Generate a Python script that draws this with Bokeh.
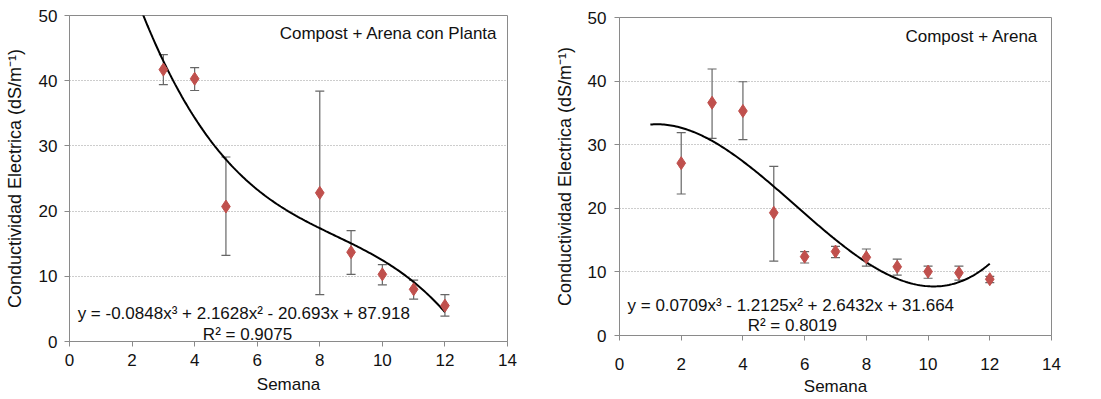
import numpy as np
from bokeh.plotting import figure
from bokeh.layouts import row, column
from bokeh.models import ColumnDataSource, Whisker, FixedTicker, TeeHead
from bokeh.core.properties import value
from bokeh.embed import file_html
from bokeh.resources import INLINE

# ---- data: Compost + Arena con Planta ----
weeks_a = [3, 4, 5, 8, 9, 10, 11, 12]
ce_a = [41.7, 40.3, 20.7, 22.8, 13.7, 10.3, 8.0, 5.5]
ce_a_hi = [44.0, 42.0, 28.3, 38.4, 17.0, 11.8, 9.4, 7.2]
ce_a_lo = [39.4, 38.5, 13.2, 7.2, 10.3, 8.7, 6.5, 3.9]
coef_a = [-0.0848, 2.1628, -20.693, 87.918]
eq_a = "y = -0.0848x³ + 2.1628x² - 20.693x + 87.918"
r2_a = "R² = 0.9075"
title_a = "Compost + Arena con Planta"

# ---- data: Compost + Arena ----
weeks_b = [2, 3, 4, 5, 6, 7, 8, 9, 10, 11, 12]
ce_b = [27.1, 36.6, 35.3, 19.3, 12.4, 13.2, 12.3, 10.8, 10.05, 9.85, 8.85]
ce_b_hi = [31.9, 41.9, 39.9, 26.6, 13.2, 14.0, 13.6, 12.0, 10.9, 10.9, 9.3]
ce_b_lo = [22.25, 31.0, 30.8, 11.7, 11.4, 12.25, 10.9, 9.5, 9.0, 8.7, 8.3]
coef_b = [0.0709, -1.2125, 2.6432, 31.664]
eq_b = "y = 0.0709x³ - 1.2125x² + 2.6432x + 31.664"
r2_b = "R² = 0.8019"
title_b = "Compost + Arena"

x_ticks = [0, 2, 4, 6, 8, 10, 12, 14]
y_ticks = [0, 10, 20, 30, 40, 50]
x_label = "Semana"
y_label = "Conductividad Electrica (dS/m⁻¹)"

FONT = "Liberation Sans"
AXIS_GREY = "#8a8a8a"
MARKER = "#C0504D"


def make_panel(weeks, ce, hi, lo, coef, eq, r2, title, width, border_right,
               border_top, border_bottom, pos, x_std, xl_std, y_std, yl_std):
    p = figure(width=width, height=399, x_range=(0, 14), y_range=(0, 50),
               output_backend="svg", toolbar_location=None,
               min_border_left=69, min_border_right=border_right,
               min_border_top=border_top, min_border_bottom=border_bottom)
    p.background_fill_color = "white"
    p.border_fill_color = "white"
    p.outline_line_color = AXIS_GREY
    p.outline_line_width = 1

    p.xaxis.ticker = FixedTicker(ticks=x_ticks)
    p.yaxis.ticker = FixedTicker(ticks=y_ticks)
    for ax in (p.xaxis[0], p.yaxis[0]):
        ax.axis_line_color = AXIS_GREY
        ax.major_tick_line_color = AXIS_GREY
        ax.minor_tick_line_color = None
        ax.major_tick_out = 5
        ax.major_tick_in = 0
        ax.major_label_text_font = FONT
        ax.major_label_text_font_size = "17px"
        ax.major_label_text_color = "#111111"
        ax.axis_label_text_font = FONT
        ax.axis_label_text_font_size = "18px"
        ax.axis_label_text_font_style = "normal"
        ax.axis_label_text_color = "#111111"
    p.xaxis.axis_label_text_font_size = "17px"
    p.xaxis.axis_label = x_label
    p.yaxis.axis_label = y_label
    p.xaxis.major_label_standoff = x_std
    p.xaxis.axis_label_standoff = xl_std
    p.yaxis.major_label_standoff = y_std
    p.yaxis.axis_label_standoff = yl_std

    p.xgrid.grid_line_color = None
    p.ygrid.grid_line_color = "#9a9a9a"
    p.ygrid.grid_line_dash = "1 2"
    p.ygrid.grid_line_width = 1

    # trend line from displayed coefficients
    xs = np.linspace(1, 12, 200)
    ys = np.polyval(coef, xs)
    p.line(xs, ys, line_color="black", line_width=2)

    src = ColumnDataSource(dict(x=weeks, y=ce, hi=hi, lo=lo))
    w = Whisker(source=src, base="x", upper="hi", lower="lo",
                line_color="#666666", line_width=1.2,
                upper_head=TeeHead(size=9, line_color="#666666", line_width=1.2),
                lower_head=TeeHead(size=9, line_color="#666666", line_width=1.2))
    p.add_layout(w)
    p.scatter("x", "y", source=src, marker="diamond", size=13,
              fill_color=MARKER, line_color=MARKER)

    tx, ty, ex, ey, rx, ry = pos
    p.text([tx], [ty], text=[title], text_font=value(FONT),
           text_font_size="17px", text_align="right", text_baseline="middle",
           text_color="#111111")
    p.text([ex], [ey], text=[eq], text_font=value(FONT),
           text_font_size="17px", text_align="left", text_baseline="middle",
           text_color="#111111")
    p.text([rx], [ry], text=[r2], text_font=value(FONT),
           text_font_size="17px", text_align="center", text_baseline="middle",
           text_color="#111111")
    return p


p1 = make_panel(weeks_a, ce_a, ce_a_hi, ce_a_lo, coef_a, eq_a, r2_a, title_a,
                550, 43, 15, 58, (13.68, 47.2, 0.26, 4.3, 5.69, 1.07), 7, 6, 7, 11)
p2 = make_panel(weeks_b, ce_b, ce_b_hi, ce_b_lo, coef_b, eq_b, r2_b, title_b,
                551, 50, 17, 64, (13.57, 47.06, 0.26, 4.7, 5.6, 1.57), 17, 4, 8, 10)

layout = row(column(p1), column(p2), spacing=0)
open("out.html", "w").write(file_html(layout, INLINE))
